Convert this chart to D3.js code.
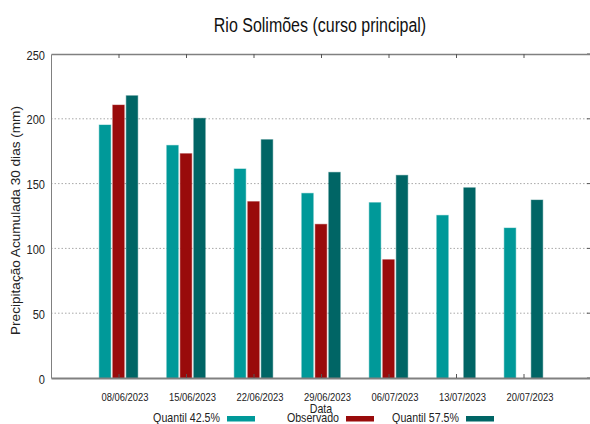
<!DOCTYPE html>
<html><head><meta charset="utf-8">
<script src="https://cdn.jsdelivr.net/npm/d3@7"></script>
<style>body{margin:0;background:#fff}svg{display:block}</style>
</head><body><svg id="c" width="590" height="424"></svg>
<script>
const dates = ["08/06/2023","15/06/2023","22/06/2023","29/06/2023","06/07/2023","13/07/2023","20/07/2023"];
const q425 = [195.2, 179.5, 161.3, 142.5, 135.3, 125.5, 115.7];
const observado = [210.6, 173.1, 136.1, 118.6, 91.3, null, null];
const q575 = [217.8, 200.4, 183.9, 158.7, 156.4, 146.8, 137.3];
const yTicks = [0, 50, 100, 150, 200, 250];
const seriesNames = ["Quantil 42.5%", "Observado", "Quantil 57.5%"];
const seriesColors = ["#009999", "#990b0b", "#006565"];

const svg = d3.select("#c");
const L = 51, R = 591, T = 54, B = 378;
const FONT = "'Liberation Sans', Arial, sans-serif";
const SX = 0.82;
const x = d3.scaleLinear().domain([-1, 7]).range([L, R]);
const y = d3.scaleLinear().domain([0, 250]).range([B, T]);
const series = [q425, observado, q575];
const off = d3.scaleLinear().domain([-1, 1]).range([-13.5, 13.5]);
const bw = 11.5;

function ntext(parent, px, py, str, size, anchor) {
  return parent.append("text")
    .attr("transform", `translate(${px},${py}) scale(${SX},1)`)
    .attr("text-anchor", anchor || "start")
    .attr("font-family", FONT).attr("font-size", size).attr("fill", "#222")
    .text(str);
}

// grid
svg.append("g").selectAll("line").data(yTicks.filter(d => d > 0 && d < 250)).join("line")
  .attr("x1", L).attr("x2", R).attr("y1", d => y(d)).attr("y2", d => y(d))
  .attr("stroke", "#a8a8a8").attr("stroke-width", 1).attr("stroke-dasharray", "1.5,2");

// bars
series.forEach((s, si) => {
  svg.append("g").selectAll("rect").data(s.map((v, i) => ({v, i})).filter(d => d.v != null)).join("rect")
    .attr("x", d => x(d.i) + off(si - 1) - bw / 2)
    .attr("width", bw)
    .attr("y", d => y(d.v))
    .attr("height", d => B - y(d.v))
    .attr("fill", seriesColors[si])
    .attr("stroke", seriesColors[si]).attr("stroke-opacity", 0.45).attr("stroke-width", 1);
});

// axes
const yAx = d3.axisLeft(y).tickValues(yTicks).tickSize(0).tickFormat("");
const gy = svg.append("g").attr("transform", `translate(${L},0)`).call(yAx);
gy.select(".domain").attr("stroke", "#808080");
gy.selectAll(".tick").each(function(d) {
  ntext(d3.select(this), -6, 5, String(d), 13.5, "end");
});
// right mirror ticks
svg.append("g").selectAll("line").data(yTicks).join("line")
  .attr("x1", R - 4).attr("x2", R).attr("y1", d => y(d)).attr("y2", d => y(d)).attr("stroke", "#555");

const xAx = d3.axisBottom(x).tickValues(d3.range(dates.length)).tickFormat("").tickSizeInner(-4).tickSizeOuter(0);
const gx = svg.append("g").attr("transform", `translate(0,${B})`).call(xAx);
gx.select(".domain").attr("stroke", "#808080").attr("stroke-width", 2);
gx.selectAll(".tick line").attr("stroke", "#555");
gx.selectAll(".tick").each(function(i) {
  ntext(d3.select(this), 6, 22.5, dates[i], 11.5, "middle");
});

const xTop = d3.axisTop(x).tickValues(d3.range(dates.length)).tickFormat("").tickSizeInner(-4).tickSizeOuter(0);
const gt = svg.append("g").attr("transform", `translate(0,${T})`).call(xTop);
gt.select(".domain").attr("stroke", "#808080").attr("stroke-width", 1.5);
gt.selectAll(".tick line").attr("stroke", "#555");

// title
ntext(svg, 320, 32, "Rio Solimões (curso principal)", 19.5, "middle").attr("fill", "#111");

// y label
svg.append("text").attr("transform", `translate(20,${(103 + 338) / 2}) rotate(-90)`).attr("text-anchor", "middle")
  .attr("font-family", FONT).attr("font-size", 13.6).attr("fill", "#222")
  .text("Precipitação Acumulada 30 dias (mm)");

// x label
ntext(svg, 321, 412.5, "Data", 13, "middle");

// legend
const legX = [220, 339, 459];
seriesNames.forEach((n, i) => {
  ntext(svg, legX[i], 421.5, n, 13, "end");
  svg.append("rect").attr("x", legX[i] + 7).attr("y", 416).attr("width", 28).attr("height", 5.5)
    .attr("fill", seriesColors[i]);
});
</script></body></html>
